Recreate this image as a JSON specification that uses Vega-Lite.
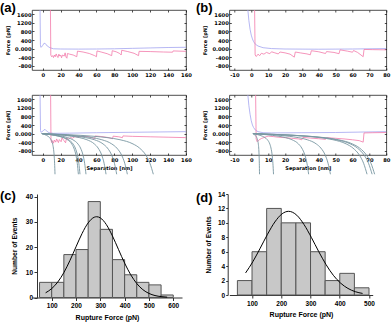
{
"$schema": "https://vega.github.io/schema/vega-lite/v6.json",
"autosize": {"type": "none"},
"padding": {"left": 32, "top": 10, "right": 360, "bottom": 312},
"background": "white",
"columns": 2,
"spacing": {"row": 12, "column": 43.3},
"bounds": "flush",
"align": "each",
"config": {"view": {"stroke": null}, "axis": {"grid": false, "labelColor": "black", "titleColor": "black", "tickColor": "black", "domainColor": "black", "labelOverlap": false, "labelFlush": false}, "title": {"color": "black"}},
"datasets": {
"aTop": [
{"x":-3.0,"f":1800,"s":"A"},{"x":-2.6,"f":200,"s":"A"},{"x":-2.2,"f":60,"s":"A"},{"x":-1.2,"f":80,"s":"A"},{"x":0,"f":150,"s":"A"},{"x":1.5,"f":250,"s":"A"},{"x":3,"f":230,"s":"A"},{"x":5,"f":120,"s":"A"},{"x":8,"f":40,"s":"A"},{"x":12,"f":-10,"s":"A"},{"x":20,"f":-20,"s":"A"},{"x":40,"f":-25,"s":"A"},{"x":60,"f":-20,"s":"A"},{"x":80,"f":-10,"s":"A"},{"x":100,"f":10,"s":"A"},{"x":120,"f":30,"s":"A"},{"x":140,"f":50,"s":"A"},{"x":160,"f":60,"s":"A"},
{"x":8.6,"f":1800,"s":"R"},{"x":9.0,"f":-300,"s":"R"},{"x":10,"f":-380,"s":"R"},{"x":11,"f":-330,"s":"R"},{"x":12,"f":-420,"s":"R"},{"x":13,"f":-300,"s":"R"},{"x":14,"f":-380,"s":"R"},{"x":15,"f":-250,"s":"R"},{"x":16,"f":-350,"s":"R"},{"x":17,"f":-420,"s":"R"},{"x":18,"f":-260,"s":"R"},{"x":19,"f":-350,"s":"R"},{"x":20,"f":-300,"s":"R"},{"x":21,"f":-430,"s":"R"},{"x":22,"f":-300,"s":"R"},{"x":24,"f":-350,"s":"R"},{"x":25,"f":-200,"s":"R"},{"x":26,"f":-400,"s":"R"},{"x":27,"f":-450,"s":"R"},{"x":27.6,"f":-230,"s":"R"},{"x":30,"f":-260,"s":"R"},{"x":34,"f":-300,"s":"R"},{"x":38,"f":-380,"s":"R"},{"x":38.8,"f":-120,"s":"R"},{"x":45,"f":-160,"s":"R"},{"x":52,"f":-230,"s":"R"},{"x":58,"f":-330,"s":"R"},{"x":60,"f":-380,"s":"R"},{"x":60.6,"f":-110,"s":"R"},{"x":66,"f":-170,"s":"R"},{"x":72,"f":-240,"s":"R"},{"x":77,"f":-330,"s":"R"},{"x":77.6,"f":-100,"s":"R"},{"x":82,"f":-150,"s":"R"},{"x":86,"f":-230,"s":"R"},{"x":87.6,"f":-300,"s":"R"},{"x":88.2,"f":-80,"s":"R"},{"x":95,"f":-140,"s":"R"},{"x":102,"f":-220,"s":"R"},{"x":107,"f":-330,"s":"R"},{"x":107.6,"f":-130,"s":"R"},{"x":120,"f":-140,"s":"R"},{"x":135,"f":-160,"s":"R"},{"x":145,"f":-170,"s":"R"},{"x":145.6,"f":-110,"s":"R"},{"x":160,"f":-130,"s":"R"}
],
"aBot": [
{"x":-3.0,"f":1800,"s":"A"},{"x":-2.5,"f":150,"s":"A"},{"x":-2.0,"f":60,"s":"A"},{"x":-1,"f":80,"s":"A"},{"x":1,"f":150,"s":"A"},{"x":2.5,"f":200,"s":"A"},{"x":4,"f":130,"s":"A"},{"x":7,"f":40,"s":"A"},{"x":12,"f":10,"s":"A"},{"x":30,"f":20,"s":"A"},{"x":60,"f":40,"s":"A"},{"x":100,"f":60,"s":"A"},{"x":130,"f":75,"s":"A"},{"x":160,"f":90,"s":"A"},
{"x":8.8,"f":1800,"s":"R"},{"x":9.2,"f":-300,"s":"R"},{"x":10,"f":-420,"s":"R"},{"x":11,"f":-330,"s":"R"},{"x":12,"f":-450,"s":"R"},{"x":13,"f":-300,"s":"R"},{"x":14.5,"f":-400,"s":"R"},{"x":15.5,"f":-250,"s":"R"},{"x":17.5,"f":-420,"s":"R"},{"x":18.5,"f":-280,"s":"R"},{"x":20.5,"f":-380,"s":"R"},{"x":21.5,"f":-200,"s":"R"},{"x":23.5,"f":-320,"s":"R"},{"x":25.5,"f":-430,"s":"R"},{"x":26.5,"f":-200,"s":"R"},{"x":29,"f":-260,"s":"R"},{"x":31,"f":-180,"s":"R"},{"x":33,"f":-220,"s":"R"},{"x":36,"f":-140,"s":"R"},{"x":40,"f":-170,"s":"R"},{"x":45,"f":-120,"s":"R"},{"x":52,"f":-150,"s":"R"},{"x":58,"f":-240,"s":"R"},{"x":58.6,"f":-110,"s":"R"},{"x":66,"f":-140,"s":"R"},{"x":74,"f":-190,"s":"R"},{"x":78,"f":-240,"s":"R"},{"x":78.6,"f":-120,"s":"R"},{"x":85,"f":-150,"s":"R"},{"x":89,"f":-190,"s":"R"},{"x":89.6,"f":-110,"s":"R"},{"x":100,"f":-130,"s":"R"},{"x":120,"f":-150,"s":"R"},{"x":140,"f":-170,"s":"R"},{"x":160,"f":-190,"s":"R"}
],
"bTop": [
{"x":-2.0,"f":1800,"s":"A"},{"x":-1.4,"f":1300,"s":"A"},{"x":-0.7,"f":900,"s":"A"},{"x":0,"f":630,"s":"A"},{"x":0.7,"f":450,"s":"A"},{"x":1.4,"f":320,"s":"A"},{"x":2.5,"f":200,"s":"A"},{"x":4,"f":120,"s":"A"},{"x":7,"f":40,"s":"A"},{"x":12,"f":0,"s":"A"},{"x":20,"f":-20,"s":"A"},{"x":40,"f":-30,"s":"A"},{"x":60,"f":-20,"s":"A"},{"x":80,"f":0,"s":"A"},
{"x":2.0,"f":1800,"s":"R"},{"x":2.3,"f":-300,"s":"R"},{"x":3,"f":-370,"s":"R"},{"x":4,"f":-260,"s":"R"},{"x":5,"f":-330,"s":"R"},{"x":6,"f":-220,"s":"R"},{"x":7.5,"f":-260,"s":"R"},{"x":9,"f":-180,"s":"R"},{"x":11,"f":-240,"s":"R"},{"x":12,"f":-150,"s":"R"},{"x":14,"f":-200,"s":"R"},{"x":16,"f":-250,"s":"R"},{"x":17,"f":-160,"s":"R"},{"x":20,"f":-200,"s":"R"},{"x":23,"f":-260,"s":"R"},{"x":25.5,"f":-400,"s":"R"},{"x":26.1,"f":-160,"s":"R"},{"x":29,"f":-200,"s":"R"},{"x":33,"f":-250,"s":"R"},{"x":35,"f":-290,"s":"R"},{"x":35.6,"f":-100,"s":"R"},{"x":40,"f":-150,"s":"R"},{"x":44,"f":-230,"s":"R"},{"x":44.6,"f":-140,"s":"R"},{"x":49,"f":-180,"s":"R"},{"x":52,"f":-240,"s":"R"},{"x":52.6,"f":-60,"s":"R"},{"x":57,"f":-120,"s":"R"},{"x":60,"f":-170,"s":"R"},{"x":60.6,"f":-90,"s":"R"},{"x":63,"f":-180,"s":"R"},{"x":66.3,"f":-380,"s":"R"},{"x":66.8,"f":-40,"s":"R"},{"x":72,"f":-50,"s":"R"},{"x":80,"f":-60,"s":"R"}
],
"bBot": [
{"x":-2.0,"f":1800,"s":"A"},{"x":-1.4,"f":1300,"s":"A"},{"x":-0.7,"f":900,"s":"A"},{"x":0,"f":600,"s":"A"},{"x":0.7,"f":400,"s":"A"},{"x":1.4,"f":280,"s":"A"},{"x":2.5,"f":160,"s":"A"},{"x":4,"f":90,"s":"A"},{"x":7,"f":40,"s":"A"},{"x":12,"f":30,"s":"A"},{"x":30,"f":40,"s":"A"},{"x":50,"f":50,"s":"A"},{"x":65,"f":70,"s":"A"},{"x":80,"f":90,"s":"A"},
{"x":2.6,"f":1800,"s":"R"},{"x":2.9,"f":-250,"s":"R"},{"x":3.5,"f":-380,"s":"R"},{"x":4.5,"f":-300,"s":"R"},{"x":6,"f":-230,"s":"R"},{"x":8,"f":-170,"s":"R"},{"x":10,"f":-120,"s":"R"},{"x":13,"f":-140,"s":"R"},{"x":16,"f":-170,"s":"R"},{"x":20,"f":-190,"s":"R"},{"x":24,"f":-220,"s":"R"},{"x":28,"f":-250,"s":"R"},{"x":30,"f":-290,"s":"R"},{"x":30.6,"f":-180,"s":"R"},{"x":35,"f":-210,"s":"R"},{"x":40,"f":-240,"s":"R"},{"x":44,"f":-270,"s":"R"},{"x":44.6,"f":-190,"s":"R"},{"x":50,"f":-220,"s":"R"},{"x":55,"f":-250,"s":"R"},{"x":60,"f":-290,"s":"R"},{"x":64,"f":-330,"s":"R"},{"x":66.3,"f":-400,"s":"R"},{"x":66.8,"f":30,"s":"R"},{"x":72,"f":40,"s":"R"},{"x":80,"f":50,"s":"R"}
],
"aFit": [
{"c":1,"x":-1,"f":0},{"c":1,"x":2.43,"f":-51},{"c":1,"x":5.87,"f":-127},{"c":1,"x":7.59,"f":-188},{"c":1,"x":9.30,"f":-287},{"c":1,"x":11.02,"f":-484},{"c":1,"x":11.88,"f":-675},{"c":1,"x":12.74,"f":-1020},{"c":1,"x":13.25,"f":-1385},{"c":1,"x":13.7,"f":-1899},
{"c":2,"x":-1,"f":0},{"c":2,"x":8.53,"f":-51},{"c":2,"x":18.06,"f":-127},{"c":2,"x":22.83,"f":-188},{"c":2,"x":27.60,"f":-287},{"c":2,"x":32.36,"f":-484},{"c":2,"x":34.75,"f":-675},{"c":2,"x":37.13,"f":-1020},{"c":2,"x":38.56,"f":-1385},{"c":2,"x":39.8,"f":-1899},
{"c":3,"x":-1,"f":0},{"c":3,"x":8.95,"f":-51},{"c":3,"x":18.91,"f":-127},{"c":3,"x":23.89,"f":-188},{"c":3,"x":28.86,"f":-287},{"c":3,"x":33.84,"f":-484},{"c":3,"x":36.33,"f":-675},{"c":3,"x":38.82,"f":-1020},{"c":3,"x":40.31,"f":-1385},{"c":3,"x":41.6,"f":-1899},
{"c":4,"x":-1,"f":0},{"c":4,"x":10.52,"f":-51},{"c":4,"x":22.04,"f":-127},{"c":4,"x":27.80,"f":-188},{"c":4,"x":33.55,"f":-287},{"c":4,"x":39.31,"f":-484},{"c":4,"x":42.19,"f":-675},{"c":4,"x":45.07,"f":-1020},{"c":4,"x":46.80,"f":-1385},{"c":4,"x":48.3,"f":-1899},
{"c":5,"x":-1,"f":0},{"c":5,"x":15.75,"f":-51},{"c":5,"x":32.50,"f":-127},{"c":5,"x":40.88,"f":-188},{"c":5,"x":49.26,"f":-287},{"c":5,"x":57.63,"f":-484},{"c":5,"x":61.82,"f":-675},{"c":5,"x":66.01,"f":-1020},{"c":5,"x":68.52,"f":-1385},{"c":5,"x":70.7,"f":-1899},
{"c":6,"x":-1,"f":0},{"c":6,"x":18.53,"f":-51},{"c":6,"x":38.06,"f":-127},{"c":6,"x":47.83,"f":-188},{"c":6,"x":57.60,"f":-287},{"c":6,"x":67.36,"f":-484},{"c":6,"x":72.25,"f":-675},{"c":6,"x":77.13,"f":-1020},{"c":6,"x":80.06,"f":-1385},{"c":6,"x":82.6,"f":-1899},
{"c":7,"x":-1,"f":0},{"c":7,"x":21.31,"f":-51},{"c":7,"x":43.63,"f":-127},{"c":7,"x":54.79,"f":-188},{"c":7,"x":65.94,"f":-287},{"c":7,"x":77.10,"f":-484},{"c":7,"x":82.68,"f":-675},{"c":7,"x":88.26,"f":-1020},{"c":7,"x":91.60,"f":-1385},{"c":7,"x":94.5,"f":-1899},
{"c":8,"x":-1,"f":0},{"c":8,"x":28.09,"f":-51},{"c":8,"x":57.18,"f":-127},{"c":8,"x":71.72,"f":-188},{"c":8,"x":86.26,"f":-287},{"c":8,"x":100.81,"f":-484},{"c":8,"x":108.08,"f":-675},{"c":8,"x":115.35,"f":-1020},{"c":8,"x":119.72,"f":-1385},{"c":8,"x":123.5,"f":-1899}
],
"bFit": [
{"c":1,"x":1,"f":0},{"c":1,"x":1.91,"f":-51},{"c":1,"x":2.82,"f":-127},{"c":1,"x":3.28,"f":-188},{"c":1,"x":3.74,"f":-287},{"c":1,"x":4.19,"f":-484},{"c":1,"x":4.42,"f":-675},{"c":1,"x":4.65,"f":-1020},{"c":1,"x":4.78,"f":-1385},{"c":1,"x":4.9,"f":-1899},
{"c":2,"x":1,"f":0},{"c":2,"x":3.85,"f":-51},{"c":2,"x":6.70,"f":-127},{"c":2,"x":8.13,"f":-188},{"c":2,"x":9.55,"f":-287},{"c":2,"x":10.98,"f":-484},{"c":2,"x":11.69,"f":-675},{"c":2,"x":12.40,"f":-1020},{"c":2,"x":12.83,"f":-1385},{"c":2,"x":13.2,"f":-1899},
{"c":3,"x":1,"f":0},{"c":3,"x":8.71,"f":-51},{"c":3,"x":16.42,"f":-127},{"c":3,"x":20.28,"f":-188},{"c":3,"x":24.13,"f":-287},{"c":3,"x":27.99,"f":-484},{"c":3,"x":29.91,"f":-675},{"c":3,"x":31.84,"f":-1020},{"c":3,"x":33.00,"f":-1385},{"c":3,"x":34.0,"f":-1899},
{"c":4,"x":1,"f":0},{"c":4,"x":11.72,"f":-51},{"c":4,"x":22.45,"f":-127},{"c":4,"x":27.81,"f":-188},{"c":4,"x":33.17,"f":-287},{"c":4,"x":38.53,"f":-484},{"c":4,"x":41.22,"f":-675},{"c":4,"x":43.90,"f":-1020},{"c":4,"x":45.50,"f":-1385},{"c":4,"x":46.9,"f":-1899},
{"c":5,"x":1,"f":0},{"c":5,"x":16.79,"f":-51},{"c":5,"x":32.59,"f":-127},{"c":5,"x":40.49,"f":-188},{"c":5,"x":48.38,"f":-287},{"c":5,"x":56.28,"f":-484},{"c":5,"x":60.23,"f":-675},{"c":5,"x":64.18,"f":-1020},{"c":5,"x":66.55,"f":-1385},{"c":5,"x":68.6,"f":-1899},
{"c":6,"x":1,"f":0},{"c":6,"x":17.50,"f":-51},{"c":6,"x":33.99,"f":-127},{"c":6,"x":42.24,"f":-188},{"c":6,"x":50.49,"f":-287},{"c":6,"x":58.74,"f":-484},{"c":6,"x":62.86,"f":-675},{"c":6,"x":66.98,"f":-1020},{"c":6,"x":69.46,"f":-1385},{"c":6,"x":71.6,"f":-1899},
{"c":7,"x":1,"f":0},{"c":7,"x":17.85,"f":-51},{"c":7,"x":34.69,"f":-127},{"c":7,"x":43.12,"f":-188},{"c":7,"x":51.54,"f":-287},{"c":7,"x":59.96,"f":-484},{"c":7,"x":64.17,"f":-675},{"c":7,"x":68.38,"f":-1020},{"c":7,"x":70.91,"f":-1385},{"c":7,"x":73.1,"f":-1899}
],
"cHist": [
{"b0":50,"b1":100,"n":6},{"b0":100,"b1":150,"n":6},{"b0":150,"b1":200,"n":17},{"b0":200,"b1":250,"n":19},{"b0":250,"b1":300,"n":38},{"b0":300,"b1":350,"n":27},{"b0":350,"b1":400,"n":15},{"b0":400,"b1":450,"n":9},{"b0":450,"b1":500,"n":6},{"b0":500,"b1":550,"n":5},{"b0":550,"b1":600,"n":1}
],
"cFit": [
{"x":75,"y":1.86},{"x":100,"y":3.52},{"x":125,"y":6.13},{"x":150,"y":9.86},{"x":175,"y":14.65},{"x":200,"y":20.07},{"x":225,"y":25.37},{"x":250,"y":29.56},{"x":275,"y":31.8},{"x":285,"y":32.0},{"x":300,"y":31.54},{"x":325,"y":28.86},{"x":350,"y":24.36},{"x":375,"y":18.97},{"x":400,"y":13.62},{"x":425,"y":9.03},{"x":450,"y":5.52},{"x":475,"y":3.11},{"x":500,"y":1.62},{"x":525,"y":0.77},{"x":550,"y":0.35},{"x":575,"y":0.14}
],
"dHist": [
{"b0":50,"b1":100,"n":2},{"b0":100,"b1":150,"n":6},{"b0":150,"b1":200,"n":12},{"b0":200,"b1":250,"n":10},{"b0":250,"b1":300,"n":10},{"b0":300,"b1":350,"n":6},{"b0":350,"b1":400,"n":2},{"b0":400,"b1":450,"n":3},{"b0":450,"b1":500,"n":1}
],
"dFit": [
{"x":78,"y":3.06},{"x":103,"y":4.63},{"x":128,"y":6.49},{"x":153,"y":8.42},{"x":178,"y":10.12},{"x":203,"y":11.26},{"x":225,"y":11.6},{"x":253,"y":11.06},{"x":278,"y":9.75},{"x":303,"y":7.97},{"x":328,"y":6.02},{"x":353,"y":4.22},{"x":378,"y":2.73},{"x":403,"y":1.64},{"x":428,"y":0.91},{"x":453,"y":0.46},{"x":478,"y":0.22}
]
},
"concat": [
{
"width": 154, "height": 60,
"view": {"stroke": "#222222", "strokeWidth": 0.8},
"title": {"text": "(a)", "anchor": "start", "frame": "group", "dx": -32, "dy": 14.5, "offset": -4, "baseline": "bottom", "font": "Liberation Sans", "fontSize": 13, "fontWeight": "bold"},
"resolve": {"axis": {"x": "independent", "y": "independent"}},
"layer": [
{"data": {"name": "aTop"}, "mark": {"type": "line", "clip": true, "strokeWidth": 0.8},
"encoding": {
"x": {"field": "x", "type": "quantitative", "scale": {"domain": [-12, 160], "nice": false, "zero": false}, "axis": {"orient": "bottom", "values": [0,20,40,60,80,100,120,140,160], "labelExpr": "'' + datum.value", "labelOverlap": false, "domain": false, "tickSize": -2, "tickWidth": 0.7, "labelFont": "DejaVu Sans", "labelFontWeight": "bold", "labelFontSize": 5.2, "labelPadding": 4, "title": null}},
"y": {"field": "f", "type": "quantitative", "scale": {"domain": [-1000, 1800], "nice": false, "zero": false}, "axis": {"orient": "left", "values": [-800,-400,0,400,800,1200,1600], "labelExpr": "datum.value == 0 ? '0.000' : '' + datum.value", "labelOverlap": false, "domain": false, "tickSize": -2, "tickWidth": 0.7, "labelFont": "DejaVu Sans", "labelFontWeight": "bold", "labelFontSize": 5.2, "labelPadding": 3, "title": "Force [pN]", "titleFont": "DejaVu Sans", "titleFontWeight": "bold", "titleFontSize": 5, "titlePadding": 4}},
"color": {"field": "s", "type": "nominal", "scale": {"domain": ["A", "R"], "range": ["#a3a5f0", "#f27aaa"]}, "legend": null}
}},
{"data": {"name": "aTop"}, "mark": {"type": "point", "opacity": 0, "clip": true},
"encoding": {
"x": {"field": "x", "type": "quantitative", "scale": {"domain": [-12, 160], "nice": false, "zero": false}, "axis": {"orient": "top", "values": [0,20,40,60,80,100,120,140,160], "labels": false, "domain": false, "tickSize": -2, "tickWidth": 0.7, "title": null}},
"y": {"field": "f", "type": "quantitative", "scale": {"domain": [-1000, 1800], "nice": false, "zero": false}, "axis": {"orient": "right", "values": [-800,-400,0,400,800,1200,1600], "labels": false, "domain": false, "tickSize": -2, "tickWidth": 0.7, "title": null}}
}}
]
},
{
"width": 157, "height": 60,
"view": {"stroke": "#222222", "strokeWidth": 0.8},
"title": {"text": "(b)", "anchor": "start", "frame": "group", "dx": -33.3, "dy": 14.5, "offset": -4, "baseline": "bottom", "font": "Liberation Sans", "fontSize": 13, "fontWeight": "bold"},
"resolve": {"axis": {"x": "independent", "y": "independent"}},
"layer": [
{"data": {"name": "bTop"}, "mark": {"type": "line", "clip": true, "strokeWidth": 0.8},
"encoding": {
"x": {"field": "x", "type": "quantitative", "scale": {"domain": [-13, 80], "nice": false, "zero": false}, "axis": {"orient": "bottom", "values": [-10,0,10,20,30,40,50,60,70,80], "labelExpr": "'' + datum.value", "labelOverlap": false, "domain": false, "tickSize": -2, "tickWidth": 0.7, "labelFont": "DejaVu Sans", "labelFontWeight": "bold", "labelFontSize": 5.2, "labelPadding": 4, "title": null}},
"y": {"field": "f", "type": "quantitative", "scale": {"domain": [-1000, 1800], "nice": false, "zero": false}, "axis": {"orient": "left", "values": [-800,-400,0,400,800,1200,1600], "labelExpr": "datum.value == 0 ? '0.000' : '' + datum.value", "labelOverlap": false, "domain": false, "tickSize": -2, "tickWidth": 0.7, "labelFont": "DejaVu Sans", "labelFontWeight": "bold", "labelFontSize": 5.2, "labelPadding": 3, "title": "Force [pN]", "titleFont": "DejaVu Sans", "titleFontWeight": "bold", "titleFontSize": 5, "titlePadding": 4}},
"color": {"field": "s", "type": "nominal", "scale": {"domain": ["A", "R"], "range": ["#a3a5f0", "#f27aaa"]}, "legend": null}
}},
{"data": {"name": "bTop"}, "mark": {"type": "point", "opacity": 0, "clip": true},
"encoding": {
"x": {"field": "x", "type": "quantitative", "scale": {"domain": [-13, 80], "nice": false, "zero": false}, "axis": {"orient": "top", "values": [-10,0,10,20,30,40,50,60,70,80], "labels": false, "domain": false, "tickSize": -2, "tickWidth": 0.7, "title": null}},
"y": {"field": "f", "type": "quantitative", "scale": {"domain": [-1000, 1800], "nice": false, "zero": false}, "axis": {"orient": "right", "values": [-800,-400,0,400,800,1200,1600], "labels": false, "domain": false, "tickSize": -2, "tickWidth": 0.7, "title": null}}
}}
]
},
{"data": {"values": [{"v": 0}]}, "mark": {"type": "point", "opacity": 0}, "encoding": {}, "width": 1, "height": 1},
{"data": {"values": [{"v": 0}]}, "mark": {"type": "point", "opacity": 0}, "encoding": {}, "width": 1, "height": 1},
{
"width": 154, "height": 60,
"view": {"stroke": "#222222", "strokeWidth": 0.8},
"resolve": {"axis": {"x": "independent", "y": "independent"}},
"layer": [
{"data": {"name": "aBot"}, "mark": {"type": "line", "clip": true, "strokeWidth": 0.8},
"encoding": {
"x": {"field": "x", "type": "quantitative", "scale": {"domain": [-12, 160], "nice": false, "zero": false}, "axis": {"orient": "bottom", "values": [0,20,40,60,80,100,120,140,160], "labelExpr": "'' + datum.value", "labelOverlap": false, "domain": false, "tickSize": -2, "tickWidth": 0.7, "labelFont": "DejaVu Sans", "labelFontWeight": "bold", "labelFontSize": 5.2, "labelPadding": 4, "title": "Separation [nm]", "titleFont": "DejaVu Sans", "titleFontWeight": "bold", "titleFontSize": 5, "titlePadding": 3}},
"y": {"field": "f", "type": "quantitative", "scale": {"domain": [-1000, 1800], "nice": false, "zero": false}, "axis": {"orient": "left", "values": [-800,-400,0,400,800,1200,1600], "labelExpr": "datum.value == 0 ? '0.000' : '' + datum.value", "labelOverlap": false, "domain": false, "tickSize": -2, "tickWidth": 0.7, "labelFont": "DejaVu Sans", "labelFontWeight": "bold", "labelFontSize": 5.2, "labelPadding": 3, "title": "Force [pN]", "titleFont": "DejaVu Sans", "titleFontWeight": "bold", "titleFontSize": 5, "titlePadding": 4}},
"color": {"field": "s", "type": "nominal", "scale": {"domain": ["A", "R"], "range": ["#a3a5f0", "#f27aaa"]}, "legend": null}
}},
{"data": {"name": "aFit"}, "mark": {"type": "line", "clip": false, "strokeWidth": 0.9, "color": "#7896a2", "interpolate": "monotone"},
"encoding": {
"x": {"field": "x", "type": "quantitative", "scale": {"domain": [-12, 160], "nice": false, "zero": false}, "axis": {"orient": "top", "values": [0,20,40,60,80,100,120,140,160], "labels": false, "domain": false, "tickSize": -2, "tickWidth": 0.7, "title": null}},
"y": {"field": "f", "type": "quantitative", "scale": {"domain": [-1000, 1800], "nice": false, "zero": false}, "axis": {"orient": "right", "values": [-800,-400,0,400,800,1200,1600], "labels": false, "domain": false, "tickSize": -2, "tickWidth": 0.7, "title": null}},
"detail": {"field": "c", "type": "nominal"}
}}
]
},
{
"width": 157, "height": 60,
"view": {"stroke": "#222222", "strokeWidth": 0.8},
"resolve": {"axis": {"x": "independent", "y": "independent"}},
"layer": [
{"data": {"name": "bBot"}, "mark": {"type": "line", "clip": true, "strokeWidth": 0.8},
"encoding": {
"x": {"field": "x", "type": "quantitative", "scale": {"domain": [-13, 80], "nice": false, "zero": false}, "axis": {"orient": "bottom", "values": [-10,0,10,20,30,40,50,60,70,80], "labelExpr": "'' + datum.value", "labelOverlap": false, "domain": false, "tickSize": -2, "tickWidth": 0.7, "labelFont": "DejaVu Sans", "labelFontWeight": "bold", "labelFontSize": 5.2, "labelPadding": 4, "title": "Separation [nm]", "titleFont": "DejaVu Sans", "titleFontWeight": "bold", "titleFontSize": 5, "titlePadding": 3}},
"y": {"field": "f", "type": "quantitative", "scale": {"domain": [-1000, 1800], "nice": false, "zero": false}, "axis": {"orient": "left", "values": [-800,-400,0,400,800,1200,1600], "labelExpr": "datum.value == 0 ? '0.000' : '' + datum.value", "labelOverlap": false, "domain": false, "tickSize": -2, "tickWidth": 0.7, "labelFont": "DejaVu Sans", "labelFontWeight": "bold", "labelFontSize": 5.2, "labelPadding": 3, "title": "Force [pN]", "titleFont": "DejaVu Sans", "titleFontWeight": "bold", "titleFontSize": 5, "titlePadding": 4}},
"color": {"field": "s", "type": "nominal", "scale": {"domain": ["A", "R"], "range": ["#a3a5f0", "#f27aaa"]}, "legend": null}
}},
{"data": {"name": "bFit"}, "mark": {"type": "line", "clip": false, "strokeWidth": 0.9, "color": "#7896a2", "interpolate": "monotone"},
"encoding": {
"x": {"field": "x", "type": "quantitative", "scale": {"domain": [-13, 80], "nice": false, "zero": false}, "axis": {"orient": "top", "values": [-10,0,10,20,30,40,50,60,70,80], "labels": false, "domain": false, "tickSize": -2, "tickWidth": 0.7, "title": null}},
"y": {"field": "f", "type": "quantitative", "scale": {"domain": [-1000, 1800], "nice": false, "zero": false}, "axis": {"orient": "right", "values": [-800,-400,0,400,800,1200,1600], "labels": false, "domain": false, "tickSize": -2, "tickWidth": 0.7, "title": null}},
"detail": {"field": "c", "type": "nominal"}
}}
]
},
{"data": {"values": [{"v": 0}]}, "mark": {"type": "point", "opacity": 0}, "encoding": {}, "width": 1, "height": 14.5},
{"data": {"values": [{"v": 0}]}, "mark": {"type": "point", "opacity": 0}, "encoding": {}, "width": 1, "height": 14.5},
{
"width": 150, "height": 103.5,
"title": {"text": "(c)", "anchor": "start", "frame": "group", "dx": -32, "dy": 2, "offset": -20, "baseline": "bottom", "font": "Liberation Sans", "fontSize": 13, "fontWeight": "bold"},
"layer": [
{"data": {"name": "cHist"}, "mark": {"type": "bar", "fill": "#c8c8c8", "stroke": "#555555", "strokeWidth": 1},
"encoding": {
"x": {"field": "b0", "type": "quantitative", "scale": {"domain": [19, 636], "nice": false, "zero": false}, "axis": {"values": [100,200,300,400,500,600], "labelOverlap": false, "domainColor": "#333333", "tickColor": "#333333", "tickSize": 3, "labelFont": "Liberation Sans", "labelFontWeight": "bold", "labelFontSize": 6.5, "labelPadding": 2, "title": "Rupture Force (pN)", "titleFont": "Liberation Sans", "titleFontWeight": "bold", "titleFontSize": 7, "titlePadding": 4}},
"x2": {"field": "b1"},
"y": {"field": "n", "type": "quantitative", "scale": {"domain": [0, 41], "nice": false}, "axis": {"values": [0,10,20,30,40], "labelOverlap": false, "offset": -5, "domainColor": "#333333", "tickColor": "#333333", "tickSize": 3, "labelFont": "Liberation Sans", "labelFontWeight": "bold", "labelFontSize": 6.5, "labelPadding": 1.5, "title": "Number of Events", "titleFont": "Liberation Sans", "titleFontWeight": "bold", "titleFontSize": 6.7, "titlePadding": 8}},
"y2": {"datum": 0}
}},
{"data": {"name": "cFit"}, "mark": {"type": "line", "color": "black", "strokeWidth": 1, "interpolate": "monotone"},
"encoding": {
"x": {"field": "x", "type": "quantitative", "axis": {"values": [100,200,300,400,500,600], "labelOverlap": false, "domainColor": "#333333", "tickColor": "#333333", "tickSize": 3, "labelFont": "Liberation Sans", "labelFontWeight": "bold", "labelFontSize": 6.5, "labelPadding": 2, "title": "Rupture Force (pN)", "titleFont": "Liberation Sans", "titleFontWeight": "bold", "titleFontSize": 7, "titlePadding": 4}},
"y": {"field": "y", "type": "quantitative", "axis": {"values": [0,10,20,30,40], "labelOverlap": false, "offset": -5, "domainColor": "#333333", "tickColor": "#333333", "tickSize": 3, "labelFont": "Liberation Sans", "labelFontWeight": "bold", "labelFontSize": 6.5, "labelPadding": 1.5, "title": "Number of Events", "titleFont": "Liberation Sans", "titleFontWeight": "bold", "titleFontSize": 6.7, "titlePadding": 8}}
}}
]
},
{
"width": 143.4, "height": 101,
"title": {"text": "(d)", "anchor": "start", "frame": "group", "dx": -33.3, "dy": 7, "offset": -20, "baseline": "bottom", "font": "Liberation Sans", "fontSize": 13, "fontWeight": "bold"},
"layer": [
{"data": {"name": "dHist"}, "mark": {"type": "bar", "fill": "#c8c8c8", "stroke": "#555555", "strokeWidth": 1},
"encoding": {
"x": {"field": "b0", "type": "quantitative", "scale": {"domain": [22.3, 512.6], "nice": false, "zero": false}, "axis": {"values": [100,200,300,400,500], "labelOverlap": false, "domainColor": "#333333", "tickColor": "#333333", "tickSize": 3, "labelFont": "Liberation Sans", "labelFontWeight": "bold", "labelFontSize": 6.5, "labelPadding": 2, "title": "Rupture Force (pN)", "titleFont": "Liberation Sans", "titleFontWeight": "bold", "titleFontSize": 7, "titlePadding": 4}},
"x2": {"field": "b1"},
"y": {"field": "n", "type": "quantitative", "scale": {"domain": [0, 14], "nice": false}, "axis": {"values": [0,2,4,6,8,10,12,14], "labelOverlap": false, "offset": 1.6, "domainColor": "#333333", "tickColor": "#333333", "tickSize": 2, "labelFont": "Liberation Sans", "labelFontWeight": "bold", "labelFontSize": 6.5, "labelPadding": 1, "title": "Number of Events", "titleFont": "Liberation Sans", "titleFontWeight": "bold", "titleFontSize": 6.7, "titlePadding": 6}},
"y2": {"datum": 0}
}},
{"data": {"name": "dFit"}, "mark": {"type": "line", "color": "black", "strokeWidth": 1, "interpolate": "monotone"},
"encoding": {
"x": {"field": "x", "type": "quantitative", "axis": {"values": [100,200,300,400,500], "labelOverlap": false, "domainColor": "#333333", "tickColor": "#333333", "tickSize": 3, "labelFont": "Liberation Sans", "labelFontWeight": "bold", "labelFontSize": 6.5, "labelPadding": 2, "title": "Rupture Force (pN)", "titleFont": "Liberation Sans", "titleFontWeight": "bold", "titleFontSize": 7, "titlePadding": 4}},
"y": {"field": "y", "type": "quantitative", "axis": {"values": [0,2,4,6,8,10,12,14], "labelOverlap": false, "offset": 1.6, "domainColor": "#333333", "tickColor": "#333333", "tickSize": 2, "labelFont": "Liberation Sans", "labelFontWeight": "bold", "labelFontSize": 6.5, "labelPadding": 1, "title": "Number of Events", "titleFont": "Liberation Sans", "titleFontWeight": "bold", "titleFontSize": 6.7, "titlePadding": 6}}
}}
]
}
]
}
